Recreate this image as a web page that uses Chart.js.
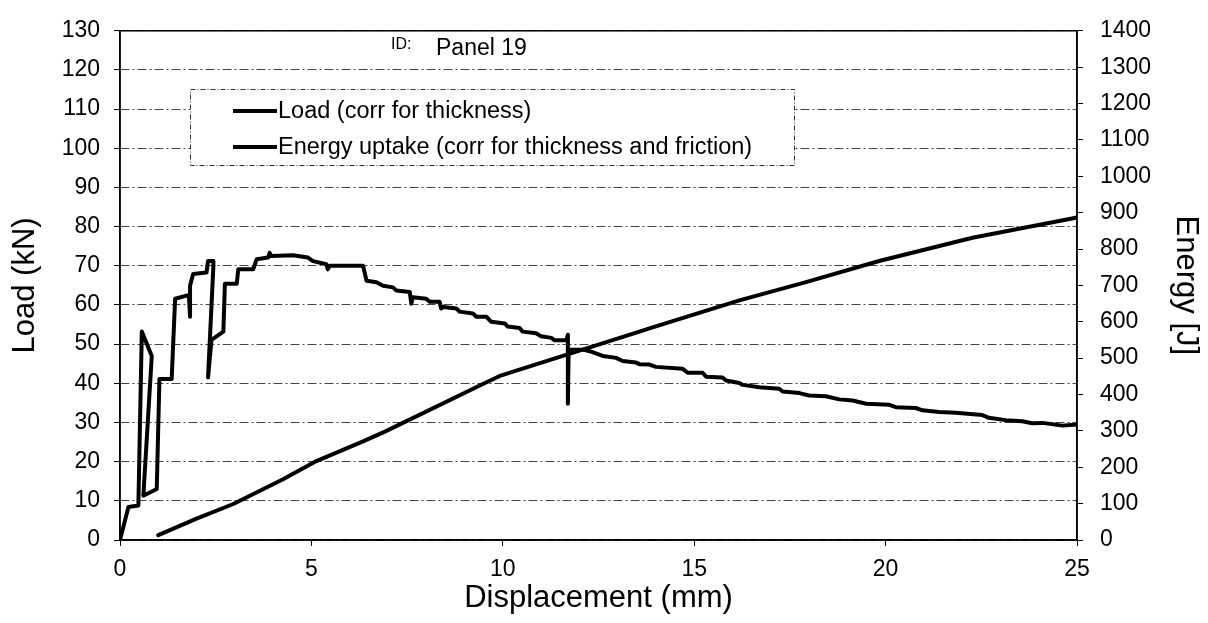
<!DOCTYPE html>
<html>
<head>
<meta charset="utf-8">
<script src="https://cdn.jsdelivr.net/npm/chart.js@4.4.1/dist/chart.umd.min.js"></script>
<style>
html,body{margin:0;padding:0;background:#fff;}
#wrap{width:1208px;height:623px;}
</style>
</head>
<body>
<div id="wrap"><canvas id="c" width="1208" height="623"></canvas></div>
<script>
// ---------- data ----------
const idLabel = 'ID:';
const panelName = 'Panel 19';
const xTitle = 'Displacement (mm)';
const yLeftTitle = 'Load (kN)';
const yRightTitle = 'Energy [J]';
const seriesNames = ['Load (corr for thickness)', 'Energy uptake (corr for thickness and friction)'];

const loadX = [0, 0.22, 0.48, 0.57, 0.83, 0.61, 0.96, 1.03, 1.35, 1.44, 1.74, 1.80, 1.83, 1.83, 1.91, 2.26, 2.30, 2.44, 2.44, 2.30, 2.39, 2.70, 2.74, 3.05, 3.09, 3.48, 3.57, 3.87, 3.91, 3.95, 4.52, 4.91, 5.04, 5.39, 5.43, 5.48, 6.35, 6.44, 6.70, 6.87, 7.13, 7.22, 7.57, 7.61, 7.65, 8.00, 8.09, 8.35, 8.39, 8.44, 8.79, 8.87, 9.22, 9.31, 9.57, 9.70, 10.05, 10.13, 10.44, 10.52, 10.87, 11.00, 11.27, 11.35, 11.66, 11.70, 11.70, 11.72, 12.09, 12.27, 12.61, 12.96, 13.13, 13.48, 13.57, 13.83, 14.00, 14.70, 14.83, 15.22, 15.31, 15.74, 15.83, 16.18, 16.27, 16.70, 17.22, 17.31, 17.75, 18.00, 18.44, 18.79, 19.14, 19.49, 20.10, 20.27, 20.79, 20.96, 21.40, 21.83, 22.53, 22.70, 23.14, 23.57, 23.83, 24.10, 24.62, 25.00];
const loadY = [0, 8.4, 8.8, 53.2, 47.0, 11.3, 13.0, 41.1, 41.1, 61.6, 62.4, 62.4, 57.0, 64.9, 67.9, 68.3, 71.2, 71.2, 70.0, 41.5, 51.1, 53.2, 65.4, 65.4, 69.1, 69.1, 71.7, 72.1, 73.3, 72.5, 72.7, 72.1, 71.2, 70.4, 69.1, 70.0, 70.0, 66.2, 65.8, 64.9, 64.5, 63.7, 63.3, 60.3, 62.0, 61.6, 60.8, 60.8, 59.1, 59.5, 59.1, 58.3, 57.8, 57.0, 57.0, 55.7, 55.3, 54.5, 54.1, 53.2, 52.8, 52.0, 51.6, 51.0, 51.0, 52.4, 34.8, 48.6, 48.6, 48.2, 47.0, 46.5, 45.7, 45.3, 44.9, 44.8, 44.2, 43.7, 42.7, 42.7, 41.7, 41.5, 40.7, 40.1, 39.6, 39.0, 38.6, 37.9, 37.5, 36.9, 36.7, 35.9, 35.6, 34.8, 34.5, 33.9, 33.7, 33.1, 32.7, 32.5, 31.9, 31.2, 30.6, 30.3, 29.8, 29.9, 29.2, 29.5];

const energyX = [1.0, 2.0, 2.96, 4.26, 5.13, 6.35, 6.92, 9.48, 9.92, 11.57, 13.57, 13.83, 16.18, 17.92, 19.83, 22.27, 24.97];
const energyY = [13.5, 58.8, 99, 167, 217, 271, 298, 429, 451, 506, 573, 582, 659, 709, 767, 831, 886];

const xTicks = [0, 5, 10, 15, 20, 25];
const loadTicks = [0, 10, 20, 30, 40, 50, 60, 70, 80, 90, 100, 110, 120, 130];
const energyTicks = [0, 100, 200, 300, 400, 500, 600, 700, 800, 900, 1000, 1100, 1200, 1300, 1400];

// ---------- chart ----------
const FONT = "'Liberation Sans', Arial, Helvetica, sans-serif";
const toPts = (xs, ys) => xs.map((x, i) => ({x: x, y: ys[i]}));
const setTicks = arr => (s) => { s.ticks = arr.map(v => ({value: v})); };
const plain = v => String(v);

const decor = {
  id: 'decor',
  afterDraw(chart) {
    const ctx = chart.ctx, a = chart.chartArea;
    ctx.save();
    // plot frame
    ctx.strokeStyle = '#000';
    ctx.lineWidth = 1.5;
    ctx.setLineDash([]);
    ctx.strokeRect(a.left, a.top, a.right - a.left, a.bottom - a.top);

    // ID text
    ctx.fillStyle = '#000';
    ctx.textBaseline = 'middle';
    ctx.textAlign = 'left';
    ctx.font = "16px " + FONT;
    ctx.fillText(idLabel, 391, 45);
    ctx.font = "23px " + FONT;
    ctx.fillText(panelName, 436, 49);

    // legend box
    const bx = 190, by = 89, bw = 604, bh = 76;
    ctx.fillStyle = '#fff';
    ctx.fillRect(bx, by, bw, bh);
    ctx.strokeStyle = '#333';
    ctx.lineWidth = 1;
    ctx.setLineDash([5, 2, 1, 2]);
    ctx.strokeRect(bx + 0.5, by + 0.5, bw, bh);
    ctx.setLineDash([]);
    const rows = [111, 147];
    chart.data.datasets.forEach((ds, i) => {
      const yy = rows[i];
      ctx.strokeStyle = ds.borderColor;
      ctx.lineWidth = 4;
      ctx.beginPath();
      ctx.moveTo(233, yy);
      ctx.lineTo(277, yy);
      ctx.stroke();
      ctx.fillStyle = '#000';
      ctx.font = "23.5px " + FONT;
      ctx.textAlign = 'left';
      ctx.textBaseline = 'middle';
      ctx.fillText(ds.label, 278, yy + 1);
    });
    ctx.restore();
  }
};

new Chart(document.getElementById('c'), {
  type: 'line',
  data: {
    datasets: [
      {
        label: seriesNames[0],
        data: toPts(loadX, loadY),
        yAxisID: 'y',
        borderColor: '#000',
        borderWidth: 4,
        borderJoinStyle: 'round',
        borderCapStyle: 'round',
        pointRadius: 0,
        tension: 0,
        fill: false
      },
      {
        label: seriesNames[1],
        data: toPts(energyX, energyY),
        yAxisID: 'y1',
        borderColor: '#000',
        borderWidth: 4,
        borderJoinStyle: 'round',
        borderCapStyle: 'round',
        pointRadius: 0,
        tension: 0,
        fill: false
      }
    ]
  },
  options: {
    responsive: false,
    animation: false,
    events: [],
    layout: {padding: {top: 23, left: 0, right: 0, bottom: 0}},
    plugins: {legend: {display: false}, tooltip: {enabled: false}},
    scales: {
      x: {
        type: 'linear',
        position: 'bottom',
        min: 0, max: 25,
        afterFit(s) { s.height = 83; },
        afterBuildTicks: setTicks(xTicks),
        grid: {drawOnChartArea: false, tickLength: 6, color: '#000', lineWidth: 1},
        border: {color: '#000', width: 1.5},
        ticks: {color: '#000', font: {family: FONT, size: 23}, padding: 10, maxRotation: 0, callback: plain},
        title: {display: true, text: xTitle, color: '#000', font: {family: FONT, size: 31}, padding: {top: 0, bottom: 6}}
      },
      y: {
        type: 'linear',
        position: 'left',
        min: 0, max: 130,
        afterFit(s) { s.width = 120; },
        afterBuildTicks: setTicks(loadTicks),
        grid: {color: '#444', lineWidth: 1, tickLength: 6, tickColor: '#000', tickBorderDash: []},
        border: {color: '#000', width: 1.5, dash: [9, 3, 2, 3]},
        ticks: {color: '#000', font: {family: FONT, size: 23}, padding: 14, callback: plain},
        title: {display: true, text: yLeftTitle, color: '#000', font: {family: FONT, size: 31}, padding: {top: 7, bottom: 0}}
      },
      y1: {
        type: 'linear',
        position: 'right',
        min: 0, max: 1400,
        afterFit(s) { s.width = 131; },
        afterBuildTicks: setTicks(energyTicks),
        grid: {drawOnChartArea: false, tickLength: 6, color: '#000', lineWidth: 1},
        border: {color: '#000', width: 1.5},
        ticks: {color: '#000', font: {family: FONT, size: 23}, padding: 17, callback: plain},
        title: {display: true, text: yRightTitle, color: '#000', font: {family: FONT, size: 31}, padding: {top: 4, bottom: 0}}
      }
    }
  },
  plugins: [decor]
});
</script>
</body>
</html>
